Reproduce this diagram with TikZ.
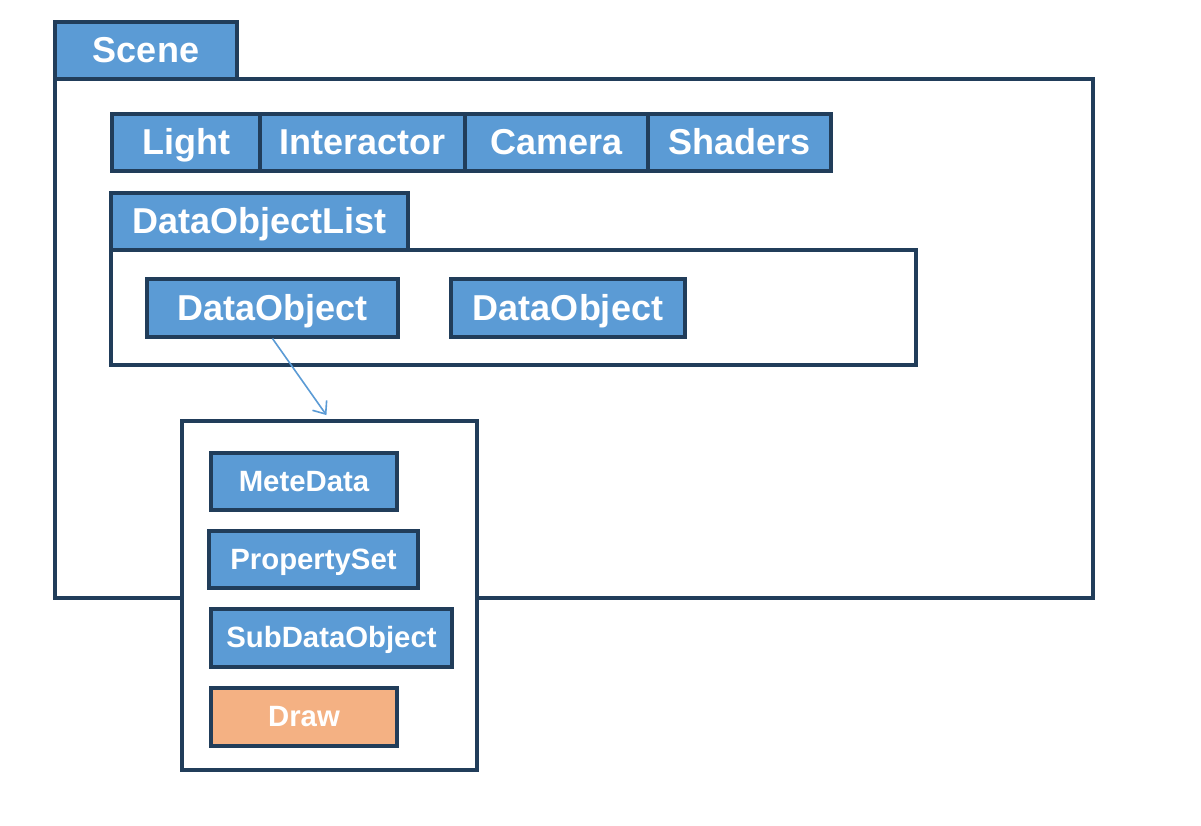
\documentclass[tikz,border=0pt]{standalone}
\usepackage{fontspec}
\setmainfont{Liberation Sans}
\usetikzlibrary{arrows.meta}
\definecolor{bfill}{HTML}{5B9BD5}
\definecolor{bline}{HTML}{213D5A}
\definecolor{ofill}{HTML}{F4B183}
\tikzset{
  box/.style={draw=bline, line width=2.35pt, fill=bfill, text=white, font=\bfseries\fontsize{27}{30}\selectfont, inner sep=0pt, text height=18.2pt, text depth=0pt},
  sbox/.style={box, font=\bfseries\fontsize{22}{26}\selectfont, text height=14.6pt},
  obox/.style={sbox, fill=ofill},
  frame/.style={draw=bline, line width=2.35pt, fill=white},
  link/.style={draw=bfill, line width=1.2pt, -{Straight Barb[length=8pt,width=13pt]}}
}
\begin{document}
\begin{tikzpicture}[x=0.75pt,y=-0.75pt]
\useasboundingbox (0,0) rectangle (1201,825);
% Scene
\path[frame] (55,79) rectangle (1093,598);
\node[box, minimum width=182*0.75pt, minimum height=57*0.75pt] (scene) at (146,50.5) {Scene};
% top row
\node[box, minimum width=148*0.75pt, minimum height=57*0.75pt] (light) at (186,142.5) {Light};
\node[box, minimum width=205*0.75pt, minimum height=57*0.75pt] (inter) at (362.5,142.5) {Interactor};
\node[box, minimum width=183*0.75pt, minimum height=57*0.75pt] (cam) at (556.5,142.5) {Camera};
\node[box, minimum width=183*0.75pt, minimum height=57*0.75pt] (shad) at (739.5,142.5) {Shaders};
% DataObjectList
\path[frame] (111,250) rectangle (916,365);
\node[box, minimum width=297*0.75pt, minimum height=57*0.75pt] (dol) at (259.5,221.5) {DataObjectList};
\node[box, minimum width=251*0.75pt, minimum height=58*0.75pt] (do1) at (272.5,308) {DataObject};
\node[box, minimum width=234*0.75pt, minimum height=58*0.75pt] (do2) at (568,308) {DataObject};
% detail
\node[frame, minimum width=295*0.75pt, minimum height=349*0.75pt, inner sep=0pt] (detail) at (329.5,595.5) {};
\node[sbox, minimum width=186*0.75pt, minimum height=57*0.75pt] (meta) at (304,481.5) {MeteData};
\node[sbox, minimum width=209*0.75pt, minimum height=57*0.75pt] (prop) at (313.5,559.5) {PropertySet};
\node[sbox, minimum width=241*0.75pt, minimum height=58*0.75pt] (sub) at (331.5,638) {SubDataObject};
\node[obox, minimum width=186*0.75pt, minimum height=58*0.75pt] (draw) at (304,717) {Draw};
% connector
\draw[link, shorten >=4pt] (do1.south) -- (detail.north);
\end{tikzpicture}
\end{document}
